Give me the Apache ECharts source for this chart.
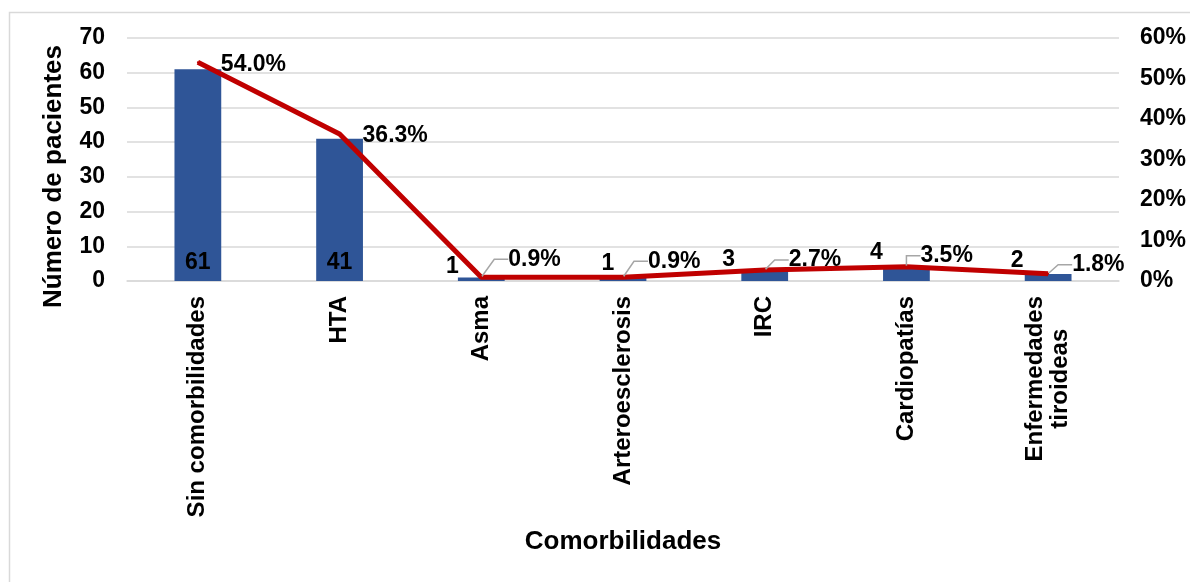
<!DOCTYPE html>
<html>
<head>
<meta charset="utf-8">
<script src="https://cdn.jsdelivr.net/npm/echarts@6/dist/echarts.min.js"></script>
<style>
  html, body { margin: 0; padding: 0; background: #ffffff; }
  #chart { width: 1190px; height: 582px; }
</style>
</head>
<body>
<div id="chart"></div>
<script>
// Comorbilidades: número de pacientes y porcentaje
const categories = ['Sin comorbilidades', 'HTA', 'Asma', 'Arteroesclerosis', 'IRC', 'Cardiopatías', 'Enfermedades\ntiroideas'];
const patients = [61, 41, 1, 1, 3, 4, 2];
const percents = [54.0, 36.3, 0.9, 0.9, 2.7, 3.5, 1.8];
const leftTicks = { min: 0, max: 70, interval: 10 };
const rightTicks = { min: 0, max: 60, interval: 10 };

const FONT = '"Liberation Sans", Arial, sans-serif';
const BAR = '#2F5597';
const LINE = '#C00000';
const GRID = '#D9D9D9';
const TXT = 23;

// nudges for the small count labels (left of and above each short bar)
const countNudge = { 2: [-29, 3], 3: [-15, 0], 4: [-36, 3], 5: [-30, -1], 6: [-31, 0] };
// nudges for the percentage labels beside the line
const pctNudge = [[17, 2], [17, 2], [21, -18], [19, -16], [18, -10], [8, -11], [18, -9]];

const chart = echarts.init(document.getElementById('chart'), null, { renderer: 'canvas' });

const barData = patients.map((v, i) => {
  if (countNudge[i]) {
    return { value: v, label: { position: 'top', distance: 2, offset: countNudge[i] } };
  }
  return v;
});

const lineData = percents.map((v, i) => (i < 2 ? { value: v, labelLine: { show: false } } : v));

chart.setOption({
  animation: false,
  backgroundColor: '#ffffff',
  textStyle: { fontFamily: FONT },
  graphic: [{
    type: 'rect', left: 7, top: 10, silent: true,
    shape: { width: 1200, height: 600 },
    style: { fill: 'none', stroke: GRID, lineWidth: 1.5 }
  }],
  grid: { left: 127, right: 71, top: 38, bottom: 301 },
  xAxis: {
    type: 'category',
    data: categories,
    name: 'Comorbilidades',
    nameLocation: 'middle',
    nameGap: 248,
    nameTextStyle: { fontSize: 26, fontWeight: 'bold', color: '#000', fontFamily: FONT },
    axisLine: { show: true, lineStyle: { color: GRID, width: 1.5 } },
    axisTick: { show: false },
    axisLabel: {
      interval: 0, rotate: 90, margin: 15,
      formatter: (v) => v.split('\n').map(s => '{a|' + s + '}').join('\n'),
      rich: { a: { fontSize: 24, fontWeight: 'bold', color: '#000', fontFamily: FONT, align: 'center', lineHeight: 25 } }
    }
  },
  yAxis: [{
    type: 'value',
    min: leftTicks.min, max: leftTicks.max, interval: leftTicks.interval,
    name: 'Número de pacientes',
    nameLocation: 'middle',
    nameRotate: 90,
    nameGap: 60,
    nameTextStyle: { fontSize: 26, fontWeight: 'bold', color: '#000', fontFamily: FONT, padding: [0, 34, 0, 0] },
    axisLine: { show: false },
    axisTick: { show: false },
    splitLine: { lineStyle: { color: GRID, width: 1.5 } },
    axisLabel: { fontSize: TXT, fontWeight: 'bold', color: '#000', margin: 22, fontFamily: FONT }
  }, {
    type: 'value',
    min: rightTicks.min, max: rightTicks.max, interval: rightTicks.interval,
    position: 'right',
    axisLine: { show: false },
    axisTick: { show: false },
    splitLine: { show: false },
    axisLabel: { fontSize: TXT, fontWeight: 'bold', color: '#000', margin: 21, fontFamily: FONT, formatter: '{value}%' }
  }],
  series: [{
    name: 'Número de pacientes',
    type: 'bar',
    data: barData,
    yAxisIndex: 0,
    barCategoryGap: '67%',
    itemStyle: { color: BAR },
    label: {
      show: true, position: 'insideBottom', distance: 7,
      fontSize: TXT, fontWeight: 'bold', color: '#000', fontFamily: FONT
    }
  }, {
    name: 'Porcentaje',
    type: 'line',
    data: lineData,
    yAxisIndex: 1,
    showSymbol: true,
    symbol: 'circle',
    symbolSize: 2,
    itemStyle: { color: LINE },
    lineStyle: { color: LINE, width: 5 },
    z: 5,
    label: {
      show: true, position: 'right', distance: 5,
      fontSize: TXT, fontWeight: 'bold', color: '#000', fontFamily: FONT,
      formatter: (p) => p.value.toFixed(1) + '%'
    },
    labelLine: { show: true, length2: 14, lineStyle: { color: '#A6A6A6', width: 1.5 } },
    labelLayout: (p) => ({ dx: pctNudge[p.dataIndex][0], dy: pctNudge[p.dataIndex][1] })
  }]
});
</script>
</body>
</html>
